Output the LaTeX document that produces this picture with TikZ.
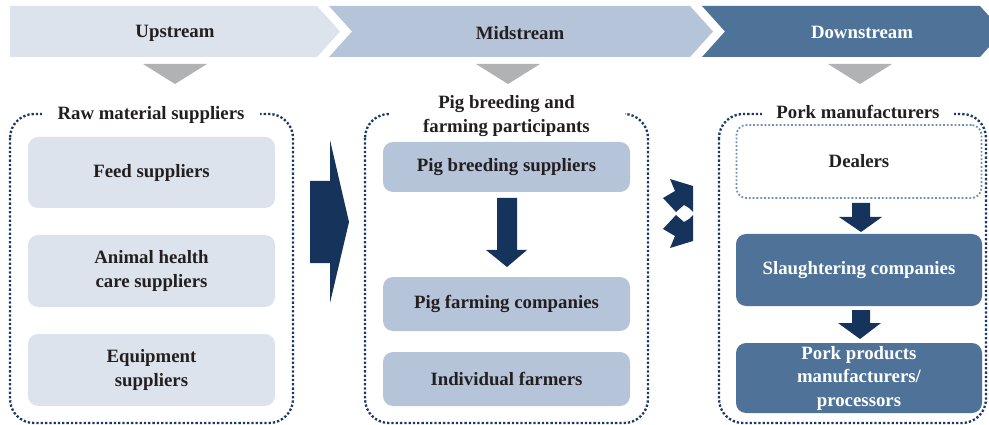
\documentclass[tikz,border=0pt]{standalone}
\usepackage{fontspec}
\setmainfont{Liberation Serif}

\definecolor{upfill}{HTML}{DCE3EC}
\definecolor{midfill}{HTML}{B5C4D8}
\definecolor{downfill}{HTML}{4F7398}
\definecolor{navy}{HTML}{15335B}
\definecolor{framecol}{HTML}{1B3A63}
\definecolor{dealcol}{HTML}{6F8FB3}
\definecolor{tricol}{HTML}{B1B2B4}
\definecolor{txtcol}{HTML}{231F20}

\tikzset{
  lbl/.style={font=\bfseries\fontsize{18.8}{23.5}\selectfont, text=txtcol, align=center},
  frame/.style={draw=framecol, line width=2.3pt, dash pattern=on 2.3pt off 2pt, rounded corners=24pt},
  title/.style={lbl, fill=white, inner ysep=1pt},
  box/.style={lbl, rounded corners=10pt, minimum width=247pt, inner sep=0pt},
  upbox/.style={box, fill=upfill},
  midbox/.style={box, fill=midfill},
  downbox/.style={box, fill=downfill, text=white},
}

\begin{document}
\begin{tikzpicture}[x=1pt,y=-1pt]
  \useasboundingbox (0,0) rectangle (989,425);

  % stage bar
  \fill[upfill] (10,6) -- (317,6) -- (340,31.5) -- (317,57) -- (10,57) -- cycle;
  \fill[midfill] (329,6) -- (690,6) -- (713,31.5) -- (690,57) -- (329,57) -- (352,31.5) -- cycle;
  \fill[downfill] (702,6) -- (980,6) -- (989,16) -- (989,47) -- (980,57) -- (702,57) -- (725,31.5) -- cycle;
  \node[lbl] (upstream) at (175,33) {Upstream};
  \node[lbl] (midstream) at (520,33) {Midstream};
  \node[lbl, text=white] (downstream) at (862,32) {Downstream};

  \fill[tricol] (143,64) -- (207,64) -- (175,84) -- cycle;
  \fill[tricol] (476,64) -- (540,64) -- (508,84) -- cycle;
  \fill[tricol] (828,64) -- (892,64) -- (860,84) -- cycle;

  % upstream
  \draw[frame] (10,114) rectangle (293,423);
  \node[title, inner xsep=16pt] (raw) at (151,115) {Raw material suppliers};
  \node[upbox, minimum height=71pt] (feed) at (151.5,172.5) {Feed suppliers};
  \node[upbox, minimum height=72pt] (health) at (151.5,271) {Animal health\\care suppliers};
  \node[upbox, minimum height=72pt] (equip) at (151.5,370) {Equipment\\suppliers};

  \fill[navy] (310,181) -- (330,181) -- (330,140) -- (349,222) -- (330,303) -- (330,263) -- (310,263) -- cycle;

  % midstream
  \draw[frame] (365,114) rectangle (648,423);
  \node[title, minimum width=236pt] (participants) at (506.5,116) {Pig breeding and\\farming participants};
  \node[midbox, minimum height=50pt] (breeding) at (506.5,167) {Pig breeding suppliers};
  \node[midbox, minimum height=54pt] (farming) at (506.5,304) {Pig farming companies};
  \node[midbox, minimum height=54pt] (farmers) at (506.5,379) {Individual farmers};

  \fill[navy] (497,198) -- (517,198) -- (517,250) -- (527,250) -- (507,267) -- (486,250) -- (497,250) -- cycle;

  \fill[navy] (670,179) -- (693,186) -- (693,212) -- (689,208) -- (684,205) -- (676,212) -- (663,198) -- (675,191) -- cycle;
  \fill[navy] (670,248) -- (693,241) -- (693,215) -- (689,219) -- (684,222) -- (676,215) -- (663,229) -- (675,236) -- cycle;

  % downstream
  \draw[frame] (719,114) rectangle (986,423);
  \node[title, inner xsep=14pt] (pork) at (858,112) {Pork manufacturers};
  \node[lbl, draw=dealcol, line width=1.8pt, dash pattern=on 1.8pt off 2pt, rounded corners=10pt,
    minimum width=245pt, minimum height=73pt, inner sep=0pt] (dealers) at (859,161.5) {Dealers};
  \node[downbox, minimum width=246pt, minimum height=72pt] (slaughter) at (859,270) {Slaughtering companies};
  \node[downbox, minimum width=246pt, minimum height=70pt] (products) at (859,378) {Pork products\\manufacturers/\\processors};

  \fill[navy] (852,203) -- (870,203) -- (870,217) -- (882,217) -- (861,232) -- (839,217) -- (852,217) -- cycle;
  \fill[navy] (852,310) -- (870,310) -- (870,323) -- (881,323) -- (860,339) -- (838,323) -- (852,323) -- cycle;
\end{tikzpicture}
\end{document}
